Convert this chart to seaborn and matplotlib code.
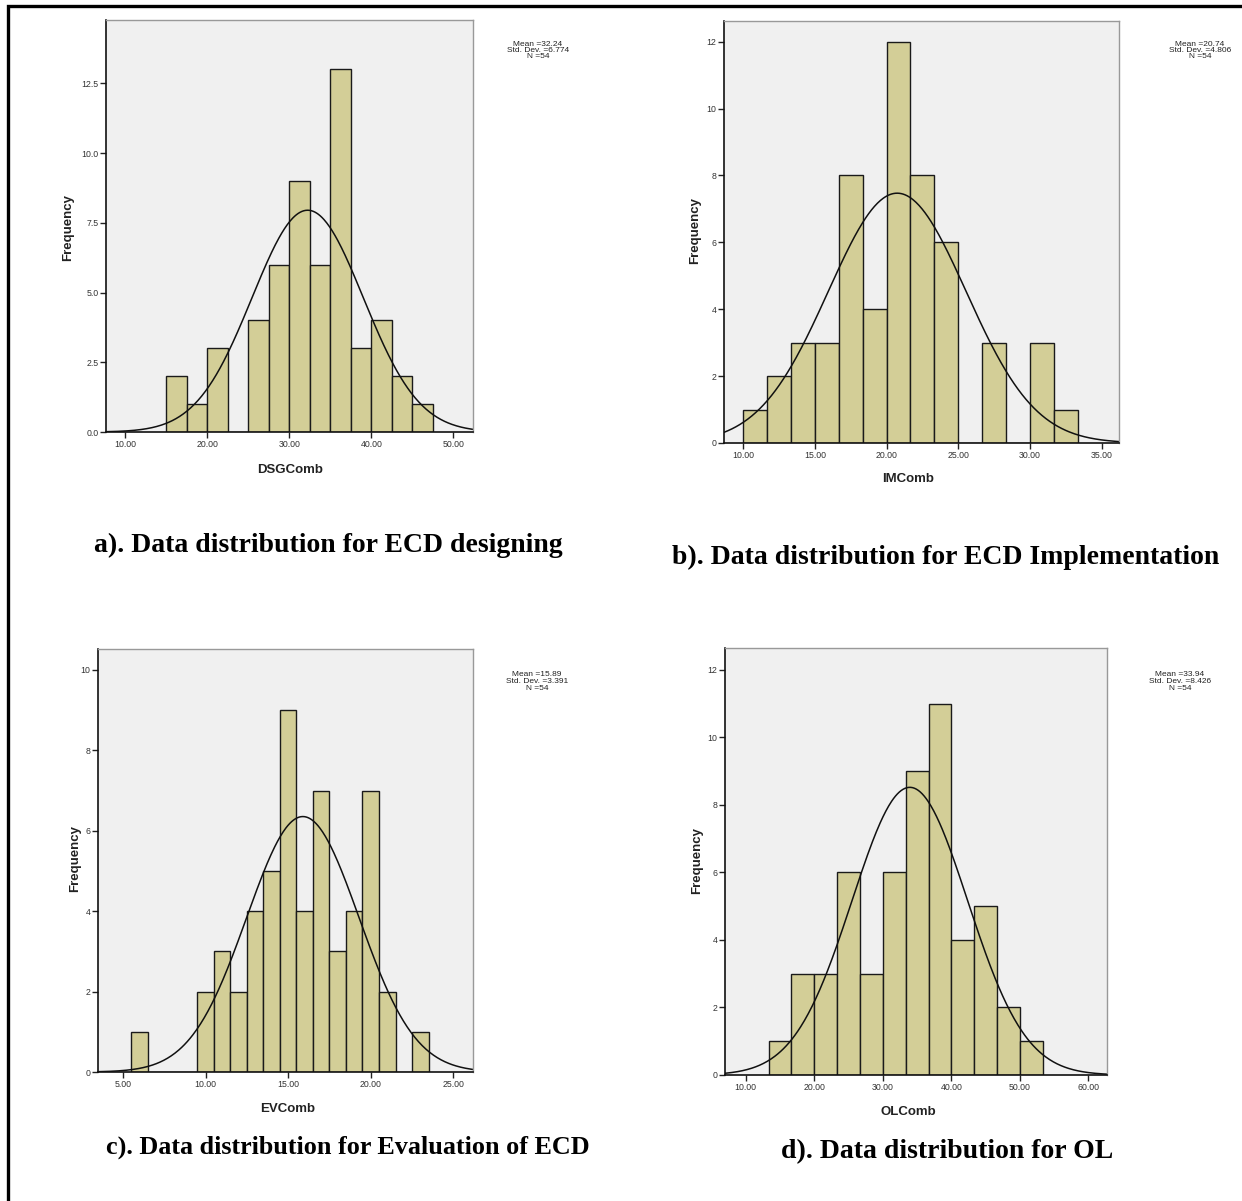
import numpy as np
import pandas as pd
import matplotlib
matplotlib.use("Agg")
import matplotlib.pyplot as plt
import seaborn as sns
from matplotlib.patches import Rectangle

sns.set_style("white")
plt.rcParams['font.family'] = ['Liberation Sans', 'DejaVu Sans']

# ---------------- data ----------------
panel_ids = ["a", "b", "c", "d"]
var_names = ["DSGComb", "IMComb", "EVComb", "OLComb"]
captions = ["a). Data distribution for ECD designing",
            "b). Data distribution for ECD Implementation",
            "c). Data distribution for Evaluation of ECD",
            "d). Data distribution for OL"]
means = [32.24, 20.74, 15.89, 33.94]
sds = [6.774, 4.806, 3.391, 8.426]
ns = [54, 54, 54, 54]

bin_start = [15.0, 10.0, 5.5, 40.0 / 3.0]
bin_width = [2.5, 5.0 / 3.0, 1.0, 10.0 / 3.0]
counts_a = [2, 1, 3, 0, 4, 6, 9, 6, 13, 3, 4, 2, 1]
counts_b = [1, 2, 3, 3, 8, 4, 12, 8, 6, 0, 3, 0, 3, 1]
counts_c = [1, 0, 0, 0, 2, 3, 2, 4, 5, 9, 4, 7, 3, 4, 7, 2, 0, 1]
counts_d = [1, 3, 3, 6, 3, 6, 9, 11, 4, 5, 2, 1]
counts_all = [counts_a, counts_b, counts_c, counts_d]

xticks_a = [10, 20, 30, 40, 50]
xticks_b = [10, 15, 20, 25, 30, 35]
xticks_c = [5, 10, 15, 20, 25]
xticks_d = [10, 20, 30, 40, 50, 60]
yticks_a = [0, 2.5, 5.0, 7.5, 10.0, 12.5]
yticks_b = [0, 2, 4, 6, 8, 10, 12]
yticks_c = [0, 2, 4, 6, 8, 10]
yticks_d = [0, 2, 4, 6, 8, 10, 12]
xticks_all = [xticks_a, xticks_b, xticks_c, xticks_d]
yticks_all = [yticks_a, yticks_b, yticks_c, yticks_d]
ytick_fmt = ["{:.1f}", "{:.0f}", "{:.0f}", "{:.0f}"]

# ---------------- layout (pixels) ----------------
W, H = 1242, 1201
fig = plt.figure(figsize=(W / 100, H / 100), dpi=100)

def fx(x):
    return x / W

def fy(y):
    return 1 - y / H

# left, right, top, bottom in px
boxes = [(106, 473, 20, 432), (724, 1119, 21, 443), (98, 473, 649, 1072), (725, 1107, 648, 1075)]
xlims = [(7.65, 52.4), (8.67, 36.2), (3.49, 26.19), (6.98, 62.7)]
ylims = [(0, 14.77), (0, 12.62), (0, 10.52), (0, 12.65)]
stats_pos = [(538, 44), (1200, 44), (537, 675), (1180, 675)]
xlabel_pos = [(290, 470), (908, 479), (288, 1109), (908, 1112)]
ylabel_pos = [(68, 227), (695, 231), (75, 858), (697, 860)]
caption_pos = [(328, 545), (946, 557), (348, 1147), (947, 1152)]
caption_size = [20, 20, 18.8, 20]

bar_color = "#D3CE97"
bg_color = "#F0F0F0"

for i in range(4):
    l, r, t, b = boxes[i]
    ax = fig.add_axes([fx(l), fy(b), fx(r) - fx(l), (b - t) / H])
    ax.set_facecolor(bg_color)
    counts = counts_all[i]
    nb = len(counts)
    edges = [float(bin_start[i] + bin_width[i] * k) for k in range(nb + 1)]
    centers = [(edges[k] + edges[k + 1]) / 2 for k in range(nb)]
    df = pd.DataFrame({"x": centers, "w": counts})
    sns.histplot(data=df, x="x", weights="w", bins=edges, ax=ax,
                 color=bar_color, edgecolor="#1a1a1a", linewidth=1.0, alpha=1.0)
    # normal curve from reported statistics
    xs = np.linspace(xlims[i][0], xlims[i][1], 400)
    ys = ns[i] * bin_width[i] * np.exp(-0.5 * ((xs - means[i]) / sds[i]) ** 2) / (sds[i] * np.sqrt(2 * np.pi))
    sns.lineplot(x=xs, y=ys, ax=ax, color="#111111", linewidth=1.1)
    ax.set_xlim(*xlims[i])
    ax.set_ylim(*ylims[i])
    ax.set_xlabel("")
    ax.set_ylabel("")
    ax.set_xticks(xticks_all[i])
    ax.set_xticklabels(["{:.2f}".format(v) for v in xticks_all[i]], fontsize=6.3, color="#333333")
    ax.set_yticks(yticks_all[i])
    ax.set_yticklabels([ytick_fmt[i].format(v) for v in yticks_all[i]], fontsize=6.3, color="#333333")
    ax.tick_params(axis="both", direction="out", length=4, width=1, color="#222222", pad=1.5,
                   bottom=True, left=True)
    for s in ["left", "bottom"]:
        ax.spines[s].set_color("#111111")
        ax.spines[s].set_linewidth(1.2)
    for s in ["top", "right"]:
        ax.spines[s].set_color("#999999")
        ax.spines[s].set_linewidth(1.0)

    sx, sy = stats_pos[i]
    lines = ["Mean =%s" % ("{:.2f}".format(means[i])),
             "Std. Dev. =%s" % ("{:.3f}".format(sds[i])),
             "N =%d" % ns[i]]
    for k, txt in enumerate(lines):
        fig.text(fx(sx), fy(sy + 6.5 * k), txt, ha="center", va="center", fontsize=6, color="#222222")

    xl, yl = xlabel_pos[i]
    fig.text(fx(xl), fy(yl), var_names[i], ha="center", va="center", fontsize=9.5,
             fontweight="bold", color="#222222")
    yx, yy = ylabel_pos[i]
    fig.text(fx(yx), fy(yy), "Frequency", ha="center", va="center", fontsize=9.5,
             fontweight="bold", rotation=90, color="#222222")
    cx, cy = caption_pos[i]
    fig.text(fx(cx), fy(cy), captions[i], ha="center", va="center", fontsize=caption_size[i],
             fontweight="bold", family=["Liberation Serif", "DejaVu Serif"], color="black")

# outer border (right and bottom lie outside the image)
fig.patches.append(Rectangle((fx(8), fy(1260)), fx(1300) - fx(8), fy(6) - fy(1260),
                             transform=fig.transFigure, fill=False, edgecolor="black",
                             linewidth=2.4, figure=fig))

fig.savefig("out.png", dpi=100, facecolor="white")
